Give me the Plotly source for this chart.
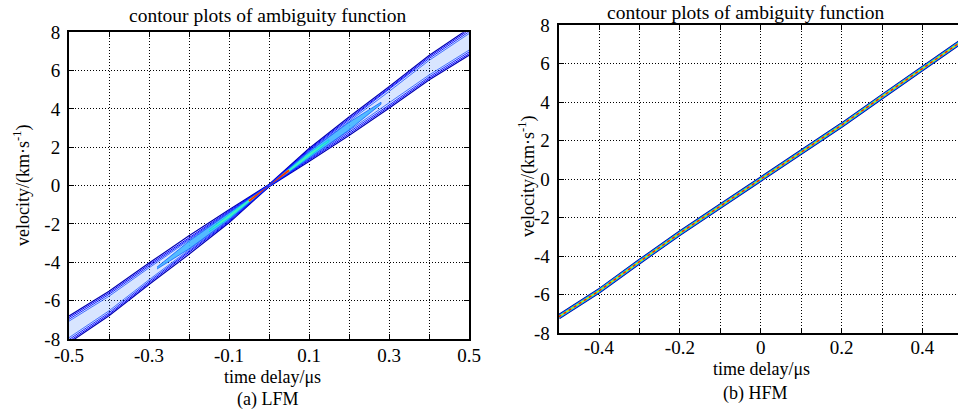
import plotly.graph_objects as go

# ---------------- data ----------------
delay = [-0.5, -0.4, -0.3, -0.2, -0.1, 0.0, 0.1, 0.2, 0.3, 0.4, 0.5]

# LFM ridge centre (velocity, km/s) and half-widths of the contour levels
lfm_center = [-7.5, -6.15, -4.6, -3.1, -1.6, 0.0, 1.6, 3.1, 4.6, 6.15, 7.5]
lfm_hw_outer = [0.7, 0.64, 0.56, 0.48, 0.34, 0.06, 0.34, 0.48, 0.56, 0.64, 0.7]
lfm_hw_l2 = [0.62, 0.56, 0.48, 0.4, 0.28, 0.05, 0.28, 0.4, 0.48, 0.56, 0.62]
lfm_hw_l3 = [0.53, 0.48, 0.4, 0.32, 0.23, 0.04, 0.23, 0.32, 0.4, 0.48, 0.53]
lfm_hw_l4 = [0.43, 0.38, 0.31, 0.25, 0.18, 0.03, 0.18, 0.25, 0.31, 0.38, 0.43]

# inner (higher-level) regions of the LFM ridge
lfm_core_delay = [-0.28, -0.2, -0.1, 0.0, 0.1, 0.2, 0.28]
lfm_core_center = [-4.3, -3.1, -1.6, 0.0, 1.6, 3.1, 4.3]
lfm_core_hw = [0.05, 0.2, 0.18, 0.03, 0.18, 0.2, 0.05]
lfm_cyan_delay = [-0.15, -0.1, -0.05, 0.0, 0.05, 0.1, 0.15]
lfm_cyan_center = [-2.35, -1.6, -0.8, 0.0, 0.8, 1.6, 2.35]
lfm_cyan_hw = [0.05, 0.1, 0.09, 0.03, 0.09, 0.1, 0.05]
lfm_red_delay = [-0.05, 0.0, 0.05]
lfm_red_center = [-0.8, 0.0, 0.8]

# HFM ridge (very thin line)
hfm_center = [-7.15, -5.8, -4.28, -2.8, -1.4, 0.0, 1.43, 2.8, 4.28, 5.75, 7.2]

# axes ticks
lfm_xtickvals = [-0.5, -0.4, -0.3, -0.2, -0.1, 0.0, 0.1, 0.2, 0.3, 0.4, 0.5]
lfm_xticktext = ["-0.5", "", "-0.3", "", "-0.1", "", "0.1", "", "0.3", "", "0.5"]
hfm_xtickvals = [-0.5, -0.4, -0.3, -0.2, -0.1, 0.0, 0.1, 0.2, 0.3, 0.4, 0.5]
hfm_xticktext = ["", "-0.4", "", "-0.2", "", "0", "", "0.2", "", "0.4", ""]
ytickvals = [-8, -6, -4, -2, 0, 2, 4, 6, 8]
yticktext = ["-8", "-6", "-4", "-2", "0", "2", "4", "6", "8"]

FONT = "Liberation Serif, Times New Roman, serif"


def band_edges(xs, cs, hws):
    """upper and lower edge of a ridge level as open lines separated by None"""
    x = list(xs) + [None] + list(xs)
    y = [c + h for c, h in zip(cs, hws)] + [None] + [c - h for c, h in zip(cs, hws)]
    return x, y


def band_poly(xs, cs, hws):
    x = list(xs) + list(xs)[::-1]
    y = [c + h for c, h in zip(cs, hws)] + [c - h for c, h in zip(cs, hws)][::-1]
    return x, y


fig = go.Figure()

# ---------------- LFM panel ----------------
px, py = band_poly(delay, lfm_center, lfm_hw_l3)
fig.add_trace(go.Scatter(x=px, y=py, mode="lines", fill="toself",
                         fillcolor="rgba(40,110,255,0.18)", line=dict(width=0),
                         xaxis="x", yaxis="y", hoverinfo="skip", showlegend=False))
px, py = band_poly(lfm_core_delay, lfm_core_center, lfm_core_hw)
fig.add_trace(go.Scatter(x=px, y=py, mode="lines", fill="toself",
                         fillcolor="rgba(60,180,255,0.85)", line=dict(width=0.8, color="#1060ff"),
                         xaxis="x", yaxis="y", hoverinfo="skip", showlegend=False))
px, py = band_poly(lfm_cyan_delay, lfm_cyan_center, lfm_cyan_hw)
fig.add_trace(go.Scatter(x=px, y=py, mode="lines", fill="toself",
                         fillcolor="#40f0c0", line=dict(width=0.8, color="#00c0ff"),
                         xaxis="x", yaxis="y", hoverinfo="skip", showlegend=False))
fig.add_trace(go.Scatter(x=lfm_red_delay, y=lfm_red_center, mode="lines",
                         line=dict(color="#e8e000", width=3),
                         xaxis="x", yaxis="y", hoverinfo="skip", showlegend=False))
fig.add_trace(go.Scatter(x=lfm_red_delay, y=lfm_red_center, mode="lines",
                         line=dict(color="#ff2000", width=1.5),
                         xaxis="x", yaxis="y", hoverinfo="skip", showlegend=False))

for hws, col, w in [(lfm_hw_outer, "#0000b0", 1.2), (lfm_hw_l2, "#0000ff", 1.0),
                    (lfm_hw_l3, "#0010ff", 0.9), (lfm_hw_l4, "#2050ff", 0.8)]:
    ex, ey = band_edges(delay, lfm_center, hws)
    fig.add_trace(go.Scatter(x=ex, y=ey, mode="lines", line=dict(color=col, width=w),
                             xaxis="x", yaxis="y", hoverinfo="skip", showlegend=False))

# ---------------- HFM panel ----------------
for col, w, dash in [("#000090", 5, "solid"), ("#0050ff", 3.8, "solid"),
                     ("#10e0e0", 2.6, "solid"), ("#d0e000", 1.4, "solid"),
                     ("#ff2000", 1.4, "dot")]:
    fig.add_trace(go.Scatter(x=delay, y=hfm_center, mode="lines",
                             line=dict(color=col, width=w, dash=dash),
                             xaxis="x2", yaxis="y2", hoverinfo="skip", showlegend=False))

axis_common = dict(showgrid=True, gridcolor="black", gridwidth=1, griddash="1px,2px",
                   zeroline=False, showline=True, linecolor="black", linewidth=2,
                   ticks="inside", ticklen=5, tickcolor="black", tickwidth=1,
                   automargin=False,
                   tickfont=dict(family=FONT, size=19, color="black"))

fig.update_layout(
    width=958, height=409,
    margin=dict(l=0, r=0, t=0, b=0, pad=0),
    paper_bgcolor="white", plot_bgcolor="white",
    font=dict(family=FONT, size=18, color="black"),
    xaxis=dict(domain=[69 / 958, 469 / 958], range=[-0.5, 0.5], anchor="y",
               tickmode="array", tickvals=lfm_xtickvals, ticktext=lfm_xticktext,
               mirror="ticks", ticklabelstandoff=-2, **axis_common),
    yaxis=dict(domain=[(409 - 339) / 409, (409 - 32.3) / 409], range=[-8, 8], anchor="x",
               tickmode="array", tickvals=ytickvals, ticktext=yticktext,
               mirror="ticks", ticklabelstandoff=3, **axis_common),
    xaxis2=dict(domain=[558.6 / 958, 1.0], range=[-0.5, 0.488], anchor="y2",
                tickmode="array", tickvals=hfm_xtickvals, ticktext=hfm_xticktext,
                mirror="ticks", ticklabelstandoff=-4, **axis_common),
    yaxis2=dict(domain=[(409 - 333.3) / 409, (409 - 25) / 409], range=[-8, 8], anchor="x2",
                tickmode="array", tickvals=ytickvals, ticktext=yticktext,
                mirror=False, ticklabelstandoff=3, **axis_common),
)


def ann(text, x, y, size=18, angle=0):
    fig.add_annotation(text=text, x=x / 958, y=(409 - y) / 409, xref="paper", yref="paper",
                       showarrow=False, xanchor="center", yanchor="middle",
                       textangle=angle, font=dict(family=FONT, size=size, color="black"))


ann("contour plots of ambiguity function", 268, 15, size=19.5)
ann("contour plots of ambiguity function", 746, 12, size=19.5)
ann("time delay/μs", 272, 377)
ann("time delay/μs", 761, 369)
ann("(a) LFM", 268, 399)
ann("(b) HFM", 755, 393)
ann("velocity/(km·s<sup>-1</sup>)", 22, 186, angle=-90)
ann("velocity/(km·s<sup>-1</sup>)", 527, 177, angle=-90)

fig.write_html("out.html",
               config={"displayModeBar": False},
               post_script="document.body.style.margin='0px';"
                           "document.body.style.overflow='hidden';")
